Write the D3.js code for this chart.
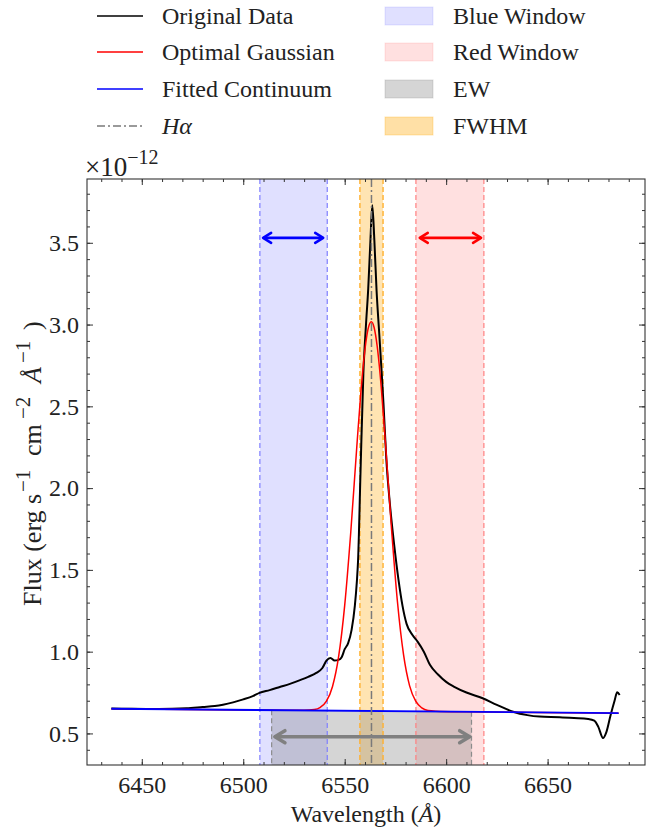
<!DOCTYPE html>
<html>
<head>
<meta charset="utf-8">
<script src="https://cdn.jsdelivr.net/npm/d3@7"></script>
<style>
body { margin: 0; background: #fff; }
text { font-family: "Liberation Serif", "DejaVu Serif", serif; fill: #222; }
</style>
</head>
<body>
<div id="chart"></div>
<script>
// spectrum (wavelength in Angstrom, flux in 1e-12 units)
var waveData = [6435, 6445, 6455, 6465, 6472, 6480, 6486, 6490, 6495, 6500, 6505, 6508, 6513, 6518, 6523,
  6528, 6532, 6536, 6539, 6541, 6543, 6545, 6547, 6548.5, 6550, 6551.7, 6553.4, 6555, 6556, 6556.6,
  6557.8, 6559.2, 6560.5, 6561.6, 6562.7, 6563.6, 6564.6, 6565.7, 6567, 6568.1, 6569.1, 6570.5, 6572.3,
  6574.5, 6576.5, 6578.5, 6580.5, 6583.5, 6586, 6589, 6592, 6596, 6600, 6604, 6610, 6618, 6625, 6633,
  6640, 6646, 6656, 6663, 6670, 6673, 6675, 6677.3, 6679, 6681, 6683, 6684.3, 6685.5];
var fluxData = [0.652, 0.651, 0.650, 0.651, 0.654, 0.662, 0.668, 0.676, 0.690, 0.708, 0.730, 0.748, 0.765, 0.784, 0.803,
  0.826, 0.846, 0.870, 0.900, 0.945, 0.962, 0.946, 0.950, 0.966, 1.015, 1.052, 1.133, 1.28, 1.43, 1.56,
  2.10, 2.70, 3.00, 3.22, 3.52, 3.73, 3.52, 3.21, 2.95, 2.73, 2.52, 2.18, 1.90,
  1.64, 1.44, 1.28, 1.17, 1.10, 1.06, 1.00, 0.92, 0.86, 0.815, 0.785, 0.75, 0.715, 0.675, 0.633,
  0.612, 0.603, 0.599, 0.594, 0.588, 0.578, 0.54, 0.472, 0.51, 0.61, 0.70, 0.752, 0.735];

// optimal gaussian curve
var waveGauss = [6435, 6500, 6520, 6530, 6535, 6538, 6541, 6544, 6547, 6550, 6553, 6556, 6558, 6560, 6561.5,
  6563.1, 6564.5, 6566, 6568, 6570, 6573, 6576, 6579, 6582, 6585, 6588, 6591, 6595, 6610, 6685];
var fluxGauss = [0.651, 0.644, 0.642, 0.642, 0.646, 0.660, 0.697, 0.787, 0.969, 1.283, 1.732, 2.259, 2.590, 2.849, 2.972,
  3.017, 2.982, 2.869, 2.619, 2.292, 1.764, 1.305, 0.982, 0.791, 0.697, 0.656, 0.640, 0.636, 0.632, 0.624];

// fitted continuum
var waveCont = [6435, 6685];
var fluxCont = [0.651, 0.624];

var blueWindow = [6508.2, 6541.4];
var redWindow = [6585.1, 6618.6];
var ewBand = [6514.0, 6612.5];
var fwhmBand = [6557.5, 6568.9];
var hAlpha = 6563.2;

var blueArrow = [6509.8, 6539.4, 3.53];
var redArrow = [6587.0, 6617.2, 3.53];
var ewArrow = [6515.6, 6611.6, 0.48];

var xTicks = [6450, 6500, 6550, 6600, 6650];
var yTicks = [0.5, 1.0, 1.5, 2.0, 2.5, 3.0, 3.5];
var xMinor = d3.range(6430, 6700, 10);
var yMinor = d3.range(0.4, 3.9, 0.1).map(function(d) { return +d.toFixed(1); });

var legendLines = ["Original Data", "Optimal Gaussian", "Fitted Continuum", "Hα"];
var legendPatches = ["Blue Window", "Red Window", "EW", "FWHM"];

var W = 660, H = 835;
var margin = {top: 179, right: 15, bottom: 70, left: 87};
var width = W - margin.left - margin.right,
    height = H - margin.top - margin.bottom;

var x = d3.scaleLinear().domain([6423, 6698]).range([0, width]);
var y = d3.scaleLinear().domain([0.307, 3.89]).range([height, 0]);
var cont = d3.scaleLinear().domain(waveCont).range(fluxCont);

var svg = d3.select("#chart").append("svg")
  .attr("width", W)
  .attr("height", H);

var g = svg.append("g")
  .attr("transform", "translate(" + margin.left + "," + margin.top + ")");

g.append("clipPath").attr("id", "clip")
  .append("rect").attr("width", width).attr("height", height);

var plot = g.append("g").attr("clip-path", "url(#clip)");

// spans
function vspan(band, fill, op) {
  plot.append("rect")
    .attr("x", x(band[0]))
    .attr("width", x(band[1]) - x(band[0]))
    .attr("y", 0)
    .attr("height", height)
    .attr("fill", fill)
    .attr("fill-opacity", op);
}
vspan(blueWindow, "#0000ff", 0.12);
vspan(redWindow, "#ff0000", 0.12);
vspan(fwhmBand, "#ffa500", 0.3);

// EW area under continuum
var ewX = [ewBand[0], ewBand[1]];
plot.append("path")
  .datum(ewX)
  .attr("d", d3.area()
    .x(function(d) { return x(d); })
    .y0(height)
    .y1(function(d) { return y(cont(d)); }))
  .attr("fill", "#808080")
  .attr("fill-opacity", 0.33);

function vline(v, color, dash, w, y1) {
  plot.append("line")
    .attr("x1", x(v)).attr("x2", x(v))
    .attr("y1", y1 === undefined ? 0 : y1).attr("y2", height)
    .attr("stroke", color)
    .attr("stroke-width", w)
    .attr("stroke-dasharray", dash);
}
vline(blueWindow[0], "#7f7fff", "5,3", 1.2);
vline(blueWindow[1], "#7f7fff", "5,3", 1.2);
vline(redWindow[0], "#ff8080", "5,3", 1.2);
vline(redWindow[1], "#ff8080", "5,3", 1.2);
vline(fwhmBand[0], "#ffb02e", "5,3", 1.4);
vline(fwhmBand[1], "#ffb02e", "5,3", 1.4);
vline(ewBand[0], "#8c8c8c", "5,3", 1.2, y(cont(ewBand[0])));
vline(ewBand[1], "#8c8c8c", "5,3", 1.2, y(cont(ewBand[1])));

// lines
var line = d3.line().curve(d3.curveMonotoneX);

plot.append("path")
  .attr("d", line.x(function(d) { return x(d); }).y(function(d, i) { return y(fluxData[i]); })(waveData))
  .attr("fill", "none").attr("stroke", "#000").attr("stroke-width", 2);

plot.append("path")
  .attr("d", line.x(function(d) { return x(d); }).y(function(d, i) { return y(fluxGauss[i]); })(waveGauss))
  .attr("fill", "none").attr("stroke", "#ff0000").attr("stroke-width", 1.5);

plot.append("path")
  .attr("d", line.x(function(d) { return x(d); }).y(function(d, i) { return y(fluxCont[i]); })(waveCont))
  .attr("fill", "none").attr("stroke", "#0000ff").attr("stroke-width", 1.8);

vline(hAlpha, "#7a7a7a", "8,3,2,3", 1.5);

// arrows
function arrow(a, color, w, hl, hw) {
  var x1 = x(a[0]), x2 = x(a[1]), yy = y(a[2]);
  var ag = plot.append("g").attr("stroke", color).attr("stroke-width", w)
    .attr("fill", "none").attr("stroke-linecap", "round").attr("stroke-linejoin", "round");
  ag.append("line").attr("x1", x1 + 1).attr("x2", x2 - 1).attr("y1", yy).attr("y2", yy);
  ag.append("path").attr("d", "M" + (x1 + hl) + "," + (yy - hw) + "L" + x1 + "," + yy + "L" + (x1 + hl) + "," + (yy + hw));
  ag.append("path").attr("d", "M" + (x2 - hl) + "," + (yy - hw) + "L" + x2 + "," + yy + "L" + (x2 - hl) + "," + (yy + hw));
}
arrow(blueArrow, "#0000ff", 2.6, 8, 5);
arrow(redArrow, "#ff0000", 2.6, 8, 5);
arrow(ewArrow, "#808080", 3.6, 10, 6);

// axes, inward ticks on all sides
function styleAxis(sel) {
  sel.select(".domain").remove();
  sel.selectAll(".tick line").attr("stroke", "#333").attr("stroke-width", 1);
  sel.selectAll("text").style("font-family", "'Liberation Serif', serif").style("font-size", "24px").attr("fill", "#222");
}

g.append("g").attr("transform", "translate(0," + height + ")")
  .call(d3.axisBottom(x).tickValues(xMinor).tickSize(-3).tickFormat(""))
  .call(styleAxis);
g.append("g").attr("transform", "translate(0," + height + ")")
  .call(d3.axisBottom(x).tickValues(xTicks).tickSize(-6).tickSizeOuter(0).tickPadding(11).tickFormat(d3.format("d")))
  .call(styleAxis);
g.append("g")
  .call(d3.axisTop(x).tickValues(xMinor).tickSize(-3).tickFormat(""))
  .call(styleAxis);
g.append("g")
  .call(d3.axisTop(x).tickValues(xTicks).tickSize(-6).tickFormat(""))
  .call(styleAxis);

g.append("g")
  .call(d3.axisLeft(y).tickValues(yMinor).tickSize(-3).tickFormat(""))
  .call(styleAxis);
g.append("g")
  .call(d3.axisLeft(y).tickValues(yTicks).tickSize(-6).tickSizeOuter(0).tickPadding(8).tickFormat(d3.format(".1f")))
  .call(styleAxis);
g.append("g").attr("transform", "translate(" + width + ",0)")
  .call(d3.axisRight(y).tickValues(yMinor).tickSize(-3).tickFormat(""))
  .call(styleAxis);
g.append("g").attr("transform", "translate(" + width + ",0)")
  .call(d3.axisRight(y).tickValues(yTicks).tickSize(-6).tickFormat(""))
  .call(styleAxis);

g.append("rect")
  .attr("width", width).attr("height", height)
  .attr("fill", "none").attr("stroke", "#333").attr("stroke-width", 1.1);

// offset text
var off = g.append("text").attr("x", -2).attr("y", -3).style("font-size", "27px");
off.append("tspan").text("×10");
off.append("tspan").attr("dy", -12).style("font-size", "20px").text("−12");

// axis labels
g.append("text")
  .attr("x", width / 2).attr("y", height + 57)
  .style("text-anchor", "middle").style("font-size", "24px")
  .call(function(t) {
    t.append("tspan").text("Wavelength (");
    t.append("tspan").style("font-style", "italic").text("Å");
    t.append("tspan").text(")");
  });

// y label, pieces placed along the rotated baseline
var yl = svg.append("text")
  .attr("transform", "translate(41,606) rotate(-90)")
  .style("font-size", "26px");
yl.append("tspan").attr("x", 0).text("Flux (erg s");
yl.append("tspan").attr("x", 114).attr("dy", -11).style("font-size", "21px").text("−1");
yl.append("tspan").attr("x", 150).attr("dy", 11).text("cm");
yl.append("tspan").attr("x", 187).attr("dy", -11).style("font-size", "21px").text("−2");
yl.append("tspan").attr("x", 223).attr("dy", 11).style("font-style", "italic").text("Å");
yl.append("tspan").attr("x", 243).attr("dy", -11).style("font-size", "21px").text("−1");
yl.append("tspan").attr("x", 276).attr("dy", 11).text(")");

// legend
var rowY = [16, 52, 89, 126];
var lineColors = ["#000", "#ff0000", "#0000ff", "#7a7a7a"];
var lineDash = [null, null, null, "8,3,2,3"];
var leg = svg.append("g");
legendLines.forEach(function(name, i) {
  leg.append("line")
    .attr("x1", 97).attr("x2", 143).attr("y1", rowY[i]).attr("y2", rowY[i])
    .attr("stroke", lineColors[i]).attr("stroke-width", 1.5)
    .attr("stroke-dasharray", lineDash[i]);
  var t = leg.append("text").attr("x", 162).attr("y", rowY[i] + 8).style("font-size", "24px");
  if (name === "Hα") {
    t.style("font-style", "italic").text(name);
  } else {
    t.text(name);
  }
});
var patchFill = ["#0000ff", "#ff0000", "#808080", "#ffa500"];
var patchOp = [0.12, 0.12, 0.33, 0.35];
legendPatches.forEach(function(name, i) {
  leg.append("rect")
    .attr("x", 385).attr("y", rowY[i] - 9).attr("width", 48).attr("height", 18)
    .attr("fill", patchFill[i]).attr("fill-opacity", patchOp[i])
    .attr("stroke", patchFill[i]).attr("stroke-opacity", patchOp[i] * 0.8);
  leg.append("text").attr("x", 453).attr("y", rowY[i] + 8).style("font-size", "24px").text(name);
});
</script>
</body>
</html>
